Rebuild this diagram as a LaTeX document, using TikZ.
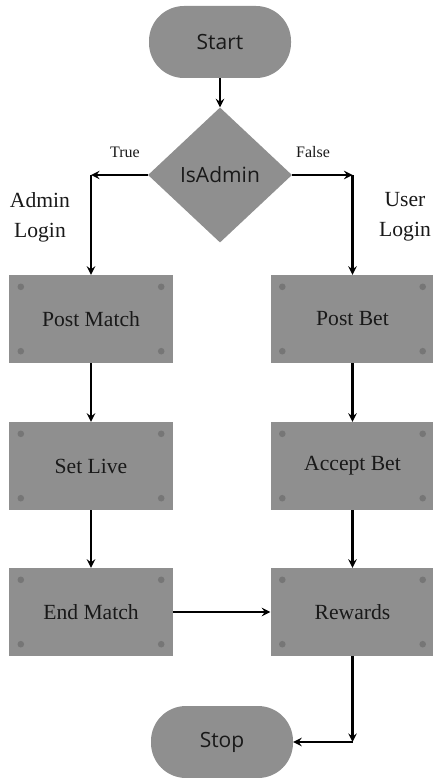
\documentclass[tikz,border=0pt]{standalone}
\usepackage{fontspec}
\setmainfont{Liberation Serif}
\setsansfont{Open Sans}
\usetikzlibrary{shapes.geometric,arrows}
\definecolor{boxgray}{RGB}{143,143,143}
\definecolor{dotgray}{RGB}{118,118,118}
\definecolor{txt}{RGB}{25,25,25}
\tikzset{
  terminal/.style={fill=boxgray,rounded corners=35pt,minimum width=142pt,minimum height=72pt,
    font=\sffamily\fontsize{21}{25}\selectfont,text=txt},
  decision/.style={diamond,fill=boxgray,minimum width=144pt,minimum height=135pt,inner sep=0pt,
    font=\sffamily\fontsize{21}{25}\selectfont,text=txt},
  process/.style={fill=boxgray,minimum width=164pt,minimum height=88pt,
    font=\fontsize{21.6}{26}\selectfont,text=txt},
  flow/.style={-stealth,line width=2.7pt},
  branch/.style={font=\fontsize{16}{19}\selectfont,text=txt},
  side/.style={align=center,font=\fontsize{21.6}{30}\selectfont,text=txt}
}
\begin{document}
\begin{tikzpicture}[x=1pt,y=-1pt]
    \useasboundingbox (0,0) rectangle (433,778);
    \node[terminal] (start) at (220,42) {Start};
    \node[decision] (isadmin) at (220,175) {IsAdmin};
    \node[process] (postmatch) at (91,319) {Post Match};
    \node[process] (setlive) at (91,466) {Set Live};
    \node[process] (endmatch) at (91,612) {End Match};
    \node[process] (postbet) at (352.5,319) {Post Bet};
    \node[process] (acceptbet) at (352.5,466) {Accept Bet};
    \node[process] (rewards) at (352.5,612) {Rewards};
    \node[terminal] (stop) at (222,742) {Stop};
    \foreach \n in {postmatch,setlive,endmatch,postbet,acceptbet,rewards} {
        \fill[dotgray] ([shift={(12,12)}]\n.north west) circle (3.3);
        \fill[dotgray] ([shift={(-12,12)}]\n.north east) circle (3.3);
        \fill[dotgray] ([shift={(12,-12)}]\n.south west) circle (3.3);
        \fill[dotgray] ([shift={(-12,-12)}]\n.south east) circle (3.3);
    }
    \coordinate (tleft) at (postmatch |- isadmin);
    \coordinate (tright) at (postbet |- isadmin);
    \coordinate (bright) at (rewards |- stop);
    \draw[flow] (start) -- (isadmin);
    \draw[flow] (isadmin.west) -- (tleft);
    \draw[flow] (tleft) -- (postmatch);
    \draw[flow] (isadmin.east) -- (tright);
    \draw[flow] (tright) -- (postbet);
    \draw[flow] (postmatch) -- (setlive);
    \draw[flow] (setlive) -- (endmatch);
    \draw[flow] (postbet) -- (acceptbet);
    \draw[flow] (acceptbet) -- (rewards);
    \draw[flow] (endmatch) -- (rewards);
    \draw[flow] (rewards) -- (bright);
    \draw[flow] (bright) -- (stop);
    \node[branch] (truelbl) at (125,152) {True};
    \node[branch] (falselbl) at (313,152) {False};
    \node[side] (adminlbl) at (40,217) {Admin\\Login};
    \node[side] (userlbl) at (405,217) {User\\Login};
\end{tikzpicture}
\end{document}
